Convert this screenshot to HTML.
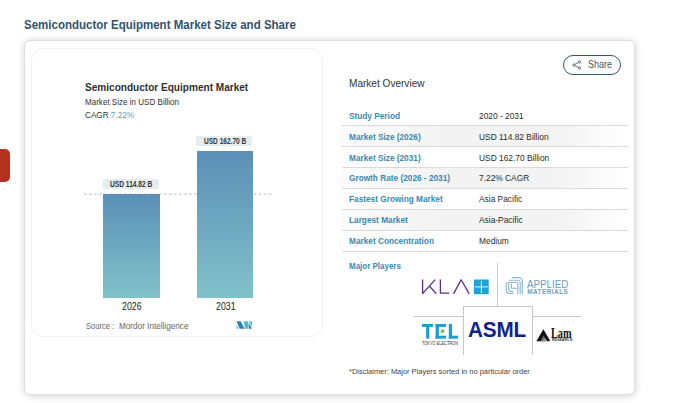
<!DOCTYPE html>
<html><head><meta charset="utf-8">
<style>
*{margin:0;padding:0;box-sizing:border-box}
html,body{width:686px;height:403px;background:#fff;overflow:hidden;font-family:"Liberation Sans",sans-serif;color:#333}
.a{position:absolute;white-space:nowrap;line-height:1}
.s{transform-origin:0 0}
#title{left:24.3px;font-weight:bold;color:#2f5470}
#tab{left:0;top:149px;width:9.7px;height:32.6px;background:#b5321e;border-radius:0 5px 5px 0}
#outer{left:23.8px;top:40px;width:611.7px;height:354.5px;border:1px solid #dedede;border-radius:6px;box-shadow:0 0 8px rgba(0,0,0,.10),-1px 0 6px rgba(0,0,0,.04),2px 3px 7px rgba(0,0,0,.05);background:#fff}
#inner{left:30.9px;top:47.8px;width:292.6px;height:289.1px;border:1px solid #f1f1f1;border-radius:12px;background:#fff}
.bar{background:linear-gradient(#5b8fb6,#81c2ca)}
.lbl{background:#e5ecee;border-radius:2px}
.lbl:after{content:"";position:absolute;left:50%;bottom:-2px;margin-left:-2px;border-left:2px solid transparent;border-right:2px solid transparent;border-top:2px solid #e5ecee}
.row{left:342px;width:286px;height:21px;border-bottom:1px solid #dadada}
.k{left:349px;font-size:9.5px;font-weight:bold;color:#3a89b7;transform:scaleX(.87)}
.v{left:478.5px;font-size:9px;color:#2b2b2b;transform:scaleX(.93)}
.g{background:linear-gradient(to right,#fbfbfb,#f3f3f3 35%,#f3f3f3 75%,#fff)}
</style></head><body>
<div class="a s" id="title" style="top:18.8px;font-size:12.5px;transform:scaleX(.921)">Semiconductor Equipment Market Size and Share</div>
<div class="a" id="tab"></div>
<div class="a" id="outer"></div>
<div class="a" id="inner"></div>

<!-- chart -->
<div class="a s" style="left:85px;top:81.9px;font-size:10.5px;font-weight:bold;color:#303030;transform:scaleX(.958)">Semiconductor Equipment Market</div>
<div class="a s" style="left:85px;top:96.7px;font-size:9.5px;color:#333;transform:scaleX(.848)">Market Size in USD Billion</div>
<div class="a s" style="left:85px;top:109.6px;font-size:9.5px;color:#333;transform:scaleX(.859)">CAGR <span style="color:#5b9bc5">7.22%</span></div>

<svg class="a" style="left:84px;top:190px" width="190" height="8"><line x1="0.1" y1="4.1" x2="189" y2="4.1" stroke="#c5ccd3" stroke-width="1.1" stroke-dasharray="2.7 2.29"/></svg>

<div class="a bar" style="left:103.3px;top:193.8px;width:56.3px;height:103.9px"></div>
<div class="a bar" style="left:197px;top:151.2px;width:56px;height:146.5px"></div>

<div class="a lbl" style="left:103.3px;top:178.7px;width:55.4px;height:10px"></div>
<div class="a lbl" style="left:196px;top:135.6px;width:55.7px;height:10.2px"></div>
<div class="a s" style="left:109.9px;top:180.4px;font-size:8.5px;font-weight:bold;color:#33383e;transform:scaleX(.779)">USD 114.82 B</div>
<div class="a s" style="left:203.6px;top:136.8px;font-size:8.5px;font-weight:bold;color:#33383e;transform:scaleX(.772)">USD 162.70 B</div>

<div class="a s" style="left:121.8px;top:301.6px;font-size:10px;color:#1a1a1a;transform:scaleX(.877)">2026</div>
<div class="a s" style="left:215.7px;top:301.6px;font-size:10px;color:#1a1a1a;transform:scaleX(.877)">2031</div>

<div class="a s" style="left:86px;top:322.1px;font-size:9px;color:#666;transform:scaleX(.845)">Source :</div><div class="a s" style="left:118.9px;top:322.1px;font-size:9px;color:#666;transform:scaleX(.907)">Mordor Intelligence</div>
<svg class="a" style="left:236.3px;top:320.8px" width="17" height="8" viewBox="0 0 17 8">
<polygon points="0.5,0.3 4.7,0.3 8.5,7.7 3.8,7.7" fill="#2a80b4"/>
<polygon points="0.5,3.6 0.5,7.7 3,7.7" fill="#5cc4cf"/>
<polygon points="7.6,0.3 11.9,0.3 12.4,7.7 9.2,7.7" fill="#45bfca"/>
<polygon points="12.4,1.2 16,7.7 12.9,7.7" fill="#2a86b2"/>
<polygon points="12.9,0.3 16.1,0.3 16.1,6" fill="#48bfc9"/>
</svg>

<!-- right -->
<div class="a" style="left:563px;top:55px;width:58px;height:19.6px;border:1.2px solid #34546a;border-radius:10px"></div>
<svg class="a" style="left:572px;top:59.5px" width="10" height="10" viewBox="0 0 10 10" fill="none" stroke="#3d5566" stroke-width=".8">
<circle cx="1.8" cy="5" r="1.1"/><circle cx="7.6" cy="2" r="1.1"/><circle cx="7.6" cy="8" r="1.1"/>
<path d="M2.8 4.4 L6.6 2.5 M2.8 5.6 L6.6 7.5"/>
</svg>
<div class="a s" style="left:588px;top:58.6px;font-size:10.5px;color:#3d5566;transform:scaleX(.86)">Share</div>

<div class="a s" style="left:349.3px;top:77.5px;font-size:11px;color:#333;transform:scaleX(.915)">Market Overview</div>

<div class="a row" style="top:104.7px"></div>
<div class="a row g" style="top:125.9px"></div>
<div class="a row" style="top:146.9px"></div>
<div class="a row g" style="top:167.9px"></div>
<div class="a row" style="top:188.9px"></div>
<div class="a row g" style="top:209.9px"></div>
<div class="a row" style="top:230.8px"></div>

<div class="a s k" style="top:111px">Study Period</div><div class="a s v" style="top:111.5px">2020 - 2031</div>
<div class="a s k" style="top:132px">Market Size (2026)</div><div class="a s v" style="top:132.5px">USD 114.82 Billion</div>
<div class="a s k" style="top:153px">Market Size (2031)</div><div class="a s v" style="top:153.5px">USD 162.70 Billion</div>
<div class="a s k" style="top:173.1px">Growth Rate (2026 - 2031)</div><div class="a s v" style="top:173.6px">7.22% CAGR</div>
<div class="a s k" style="top:194.1px">Fastest Growing Market</div><div class="a s v" style="top:194.6px">Asia Pacific</div>
<div class="a s k" style="top:215.1px">Largest Market</div><div class="a s v" style="top:215.6px">Asia-Pacific</div>
<div class="a s k" style="top:236.1px">Market Concentration</div><div class="a s v" style="top:236.6px">Medium</div>
<div class="a s k" style="top:261.1px;transform:scaleX(.84)">Major Players</div>

<!-- logos grid lines -->
<div class="a" style="left:496.8px;top:262.6px;width:1px;height:43.9px;background:#c8c8c8"></div>
<div class="a" style="left:414.2px;top:316px;width:49px;height:1px;background:#c8c8c8"></div>
<div class="a" style="left:532px;top:316px;width:49px;height:1px;background:#c8c8c8"></div>
<div class="a" style="left:463px;top:306px;width:69.5px;height:48.5px;border:1px solid #c8c8c8;border-bottom:none"></div>

<!-- KLA -->
<svg class="a" style="left:421px;top:278.5px" width="69" height="16" viewBox="0 0 69 16">
<g fill="none" stroke="#5a2d8e" stroke-width="1.3" stroke-linejoin="round">
<path d="M1.6 0.6 V14.6 L14.1 0.6 M8.6 7.2 L15.4 14.9"/>
<path d="M19.4 0.6 V14.2 H28.3"/>
<path d="M32.6 14.9 L40.1 0.8 L48.2 14.9"/>
</g>
<rect x="53" y="0.5" width="14.7" height="14.7" fill="#1ba2d8"/>
<path d="M54.1 7.9 H66.8 M60.4 1.8 V14.1" stroke="#eafcff" stroke-width="1"/>
</svg>

<!-- Applied Materials -->
<svg class="a" style="left:503px;top:275px" width="24" height="22" viewBox="0 0 24 22" fill="none" stroke="#8ab8d6" stroke-width="1.15">
<path d="M8.8 2.6 H15.8 A3.5 3.5 0 0 1 19.3 6.1 V19.3"/>
<path d="M6 5.2 H14.2 A3 3 0 0 1 17.2 8.2 V19.3"/>
<path d="M14.8 19.3 V9.3 A1.8 1.8 0 0 0 13 7.5 H5.8 A2.5 2.5 0 0 0 3.3 10 V15.5 A3 3 0 0 0 6.3 18.5 H10.5"/>
<path d="M5.8 8.8 V14.3 A2 2 0 0 0 7.8 16.3 H10.5"/>
<path d="M8.4 8.8 V13.2 H14.8"/>
</svg>
<div class="a s" style="left:527px;top:279.5px;font-size:10px;color:#6a9bc1;transform:scaleX(.98)">APPLIED</div>
<div class="a s" style="left:527.2px;top:289.3px;font-size:6.4px;font-weight:bold;color:#6f9ec2;letter-spacing:0.48px">MATERIALS</div><div class="a" style="left:569.5px;top:292px;font-size:2.5px;color:#6e9fc5">&#174;</div>

<!-- TEL -->
<svg class="a" style="left:421.8px;top:324.2px" width="37" height="15" viewBox="0 0 37 15" fill="#1e9dd5">
<rect x="0" y="0" width="11.1" height="2.9"/><rect x="4.1" y="0" width="3.2" height="14.6"/>
<rect x="13.6" y="0" width="10.4" height="2.9"/><rect x="13.6" y="0" width="3.3" height="14.6"/><rect x="13.6" y="11.7" width="10.4" height="2.9"/>
<rect x="18.8" y="5.5" width="3.4" height="3.4" fill="#7cc242"/>
<rect x="26.8" y="0" width="3.3" height="14.6"/><rect x="26.8" y="11.7" width="9.4" height="2.9"/>
</svg>
<div class="a s" style="left:422.3px;top:342.4px;font-size:4.8px;color:#333;transform:scaleX(.815)">TOKYO ELECTRON</div>

<!-- ASML -->
<div class="a s" style="left:467.9px;top:319.2px;font-size:22.5px;font-weight:bold;color:#10238c;letter-spacing:-0.2px;transform:scaleX(.92)">ASML</div>

<!-- Lam -->
<svg class="a" style="left:536px;top:328.5px" width="14.5" height="13" viewBox="0 0 14.5 13">
<defs><linearGradient id="lg" x1="0" y1="0" x2="1" y2="1"><stop offset="0" stop-color="#222"/><stop offset="1" stop-color="#c8c8c8"/></linearGradient></defs>
<polygon points="7.4,0.3 14,11.6 13.2,12.2 0.4,12.3" fill="#0d0d0d"/>
<polygon points="4.6,12.3 7.2,6.3 11.2,12.1" fill="url(#lg)"/>
</svg>
<div class="a s" style="left:551.2px;top:326.5px;font-family:'Liberation Serif',serif;font-weight:bold;font-size:14px;color:#111;transform:scaleX(.735)">Lam</div>
<div class="a s" style="left:551.5px;top:338.8px;font-size:3.5px;font-weight:bold;color:#333;transform:scaleX(1.03)">RESEARCH</div>

<div class="a s" style="left:348.7px;top:367.7px;font-size:8px;color:#444;transform:scaleX(.933)">*Disclaimer: Major Players sorted in no particular order</div>
</body></html>
